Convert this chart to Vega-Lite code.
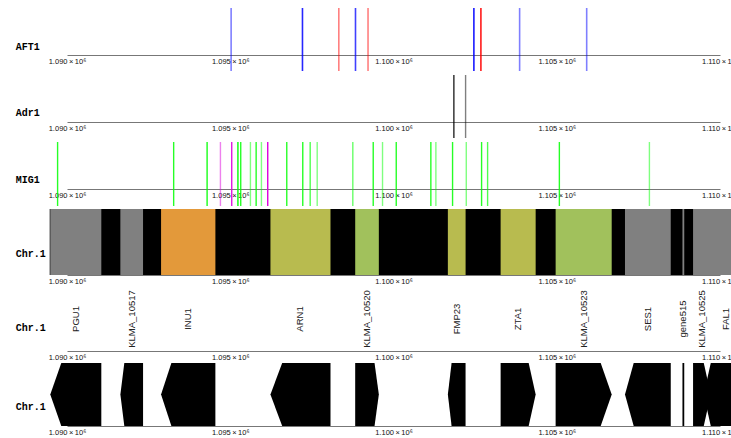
{
  "$schema": "https://vega.github.io/schema/vega-lite/v6.json",
  "padding": {"left": 15, "top": 7, "right": 0, "bottom": 0},
  "spacing": 2,
  "background": "white",
  "config": {
    "view": {"stroke": null},
    "axisX": {"ticks": false, "grid": false, "domainColor": "#777", "domainWidth": 1, "labelFont": "Liberation Sans", "labelFontSize": 7.5, "labelColor": "#111", "labelPadding": 2, "labelFlush": false, "labelOverlap": false, "labelBound": false},
    "axisY": {"domain": false, "ticks": false, "labels": false, "grid": false, "titleAngle": 0, "titleAlign": "left", "titleBaseline": "middle", "titleX": -51.7, "titleFont": "Liberation Mono", "titleFontWeight": "bold", "titleFontSize": 10, "titleColor": "#000"}
  },
  "resolve": {"scale": {"color": "independent", "opacity": "independent"}},
  "datasets": {
    "aft1": [
      {"pos": 1095027, "strand": "+", "score": 0.5},
      {"pos": 1097212, "strand": "+", "score": 0.85},
      {"pos": 1098325, "strand": "-", "score": 0.5},
      {"pos": 1098836, "strand": "+", "score": 0.75},
      {"pos": 1099220, "strand": "-", "score": 0.5},
      {"pos": 1102462, "strand": "+", "score": 0.9},
      {"pos": 1102677, "strand": "-", "score": 0.9},
      {"pos": 1103863, "strand": "+", "score": 0.5},
      {"pos": 1105917, "strand": "+", "score": 0.5}
    ],
    "adr1": [
      {"pos": 1101849, "score": 0.85},
      {"pos": 1102208, "score": 0.5}
    ],
    "mig1": [
      {"pos": 1089712, "strand": "+", "score": 0.85},
      {"pos": 1093267, "strand": "+", "score": 0.85},
      {"pos": 1094291, "strand": "+", "score": 0.9},
      {"pos": 1094699, "strand": "-", "score": 0.5},
      {"pos": 1095045, "strand": "-", "score": 0.9},
      {"pos": 1095235, "strand": "+", "score": 1},
      {"pos": 1095321, "strand": "+", "score": 0.85},
      {"pos": 1095618, "strand": "+", "score": 0.5},
      {"pos": 1095793, "strand": "+", "score": 0.85},
      {"pos": 1095955, "strand": "+", "score": 0.5},
      {"pos": 1096148, "strand": "-", "score": 1},
      {"pos": 1096731, "strand": "+", "score": 0.85},
      {"pos": 1097221, "strand": "+", "score": 0.85},
      {"pos": 1097448, "strand": "+", "score": 0.7},
      {"pos": 1097663, "strand": "+", "score": 0.5},
      {"pos": 1098754, "strand": "+", "score": 0.6},
      {"pos": 1099379, "strand": "+", "score": 0.85},
      {"pos": 1099664, "strand": "+", "score": 0.5},
      {"pos": 1100084, "strand": "+", "score": 0.85},
      {"pos": 1101144, "strand": "+", "score": 0.85},
      {"pos": 1101298, "strand": "+", "score": 0.5},
      {"pos": 1101809, "strand": "+", "score": 0.85},
      {"pos": 1102229, "strand": "+", "score": 0.5},
      {"pos": 1102698, "strand": "+", "score": 0.85},
      {"pos": 1102882, "strand": "+", "score": 0.7},
      {"pos": 1105080, "strand": "+", "score": 0.85},
      {"pos": 1107838, "strand": "+", "score": 0.5}
    ],
    "chrom": [
      {"name": "Chr.1", "start": 1089470, "end": 1111000}
    ],
    "genes": [
      {"name": "PGU1", "start": 1089488, "end": 1091051, "head": 1089825, "strand": "-", "cls": "none"},
      {"name": "KLMA_10517", "start": 1091634, "end": 1092329, "head": 1091756, "strand": "-", "cls": "none"},
      {"name": "INU1", "start": 1092881, "end": 1094545, "head": 1093197, "strand": "-", "cls": "up"},
      {"name": "ARN1", "start": 1096231, "end": 1098070, "head": 1096590, "strand": "-", "cls": "mid"},
      {"name": "KLMA_10520", "start": 1098827, "end": 1099551, "head": 1099419, "strand": "+", "cls": "down"},
      {"name": "FMP23", "start": 1101665, "end": 1102208, "head": 1101779, "strand": "-", "cls": "mid"},
      {"name": "ZTA1", "start": 1103281, "end": 1104354, "head": 1104140, "strand": "+", "cls": "mid"},
      {"name": "KLMA_10523", "start": 1104966, "end": 1106683, "head": 1106346, "strand": "+", "cls": "down"},
      {"name": "SES1", "start": 1107090, "end": 1108491, "head": 1107357, "strand": "-", "cls": "none"},
      {"name": "gene515", "start": 1108850, "end": 1108905, "head": 1108850, "strand": ".", "cls": "none"},
      {"name": "KLMA_10525", "start": 1109175, "end": 1109717, "head": 1109503, "strand": "+", "cls": "none"},
      {"name": "FAL1", "start": 1109503, "end": 1110851, "head": 1109717, "strand": "-", "cls": "none"}
    ]
  },
  "vconcat": [
    {
      "width": 653, "height": 63,
      "data": {"name": "aft1"},
      "mark": {"type": "rule", "strokeWidth": 1.6},
      "encoding": {
        "x": {"field": "pos", "type": "quantitative", "scale": {"domain": [1090000, 1110000], "nice": false, "zero": false},
              "axis": {"title": null, "offset": -16, "values": [1090000, 1095000, 1100000, 1105000, 1110000], "labelExpr": "format(datum.value/1000000, '.3f') + '\u2009×\u200910⁶'"}},
        "y": {"datum": 0, "type": "quantitative", "scale": {"domain": [0, 1]}, "axis": {"title": "AFT1", "titleY": 38}},
        "y2": {"datum": 1},
        "color": {"field": "strand", "type": "nominal", "scale": {"domain": ["+", "-"], "range": ["#0000ff", "#ff0000"]}, "legend": null},
        "opacity": {"field": "score", "type": "quantitative", "scale": {"domain": [0, 1], "range": [0, 1]}, "legend": null}
      }
    },
    {
      "width": 653, "height": 63,
      "data": {"name": "adr1"},
      "mark": {"type": "rule", "strokeWidth": 1.4, "color": "#000"},
      "encoding": {
        "x": {"field": "pos", "type": "quantitative", "scale": {"domain": [1090000, 1110000], "nice": false, "zero": false},
              "axis": {"title": null, "offset": -16, "values": [1090000, 1095000, 1100000, 1105000, 1110000], "labelExpr": "format(datum.value/1000000, '.3f') + '\u2009×\u200910⁶'"}},
        "y": {"datum": 0, "type": "quantitative", "scale": {"domain": [0, 1]}, "axis": {"title": "Adr1", "titleY": 37}},
        "y2": {"datum": 1},
        "opacity": {"field": "score", "type": "quantitative", "scale": {"domain": [0, 1], "range": [0, 1]}, "legend": null}
      }
    },
    {
      "width": 653, "height": 64,
      "data": {"name": "mig1"},
      "mark": {"type": "rule", "strokeWidth": 1.4},
      "encoding": {
        "x": {"field": "pos", "type": "quantitative", "scale": {"domain": [1090000, 1110000], "nice": false, "zero": false},
              "axis": {"title": null, "offset": -17, "values": [1090000, 1095000, 1100000, 1105000, 1110000], "labelExpr": "format(datum.value/1000000, '.3f') + '\u2009×\u200910⁶'"}},
        "y": {"datum": 0, "type": "quantitative", "scale": {"domain": [0, 1]}, "axis": {"title": "MIG1", "titleY": 37}},
        "y2": {"datum": 1},
        "color": {"field": "strand", "type": "nominal", "scale": {"domain": ["+", "-"], "range": ["#00ff00", "#dd00dd"]}, "legend": null},
        "opacity": {"field": "score", "type": "quantitative", "scale": {"domain": [0, 1], "range": [0, 1]}, "legend": null}
      }
    },
    {
      "width": 653, "height": 66,
      "layer": [
        {
          "data": {"name": "chrom"},
          "mark": {"type": "rect", "color": "#000"},
          "encoding": {
            "x": {"field": "start", "type": "quantitative", "scale": {"domain": [1090000, 1110000], "nice": false, "zero": false},
                  "axis": {"title": null, "values": [1090000, 1095000, 1100000, 1105000, 1110000], "labelExpr": "format(datum.value/1000000, '.3f') + '\u2009×\u200910⁶'"}},
            "x2": {"field": "end"},
            "y": {"datum": 0, "type": "quantitative", "scale": {"domain": [0, 1]}, "axis": {"title": "Chr.1", "titleY": 44}},
            "y2": {"datum": 1}
          }
        },
        {
          "data": {"name": "genes"},
          "mark": {"type": "rect"},
          "encoding": {
            "x": {"field": "start", "type": "quantitative"},
            "x2": {"field": "end"},
            "y": {"datum": 0, "type": "quantitative"},
            "y2": {"datum": 1},
            "color": {"field": "cls", "type": "nominal", "scale": {"domain": ["none", "up", "mid", "down"], "range": ["#808080", "#e3993a", "#b8bb4f", "#a1c15c"]}, "legend": null}
          }
        }
      ]
    },
    {
      "width": 653, "height": 64,
      "data": {"name": "genes"},
      "transform": [{"calculate": "(datum.start + datum.end) / 2", "as": "mid"}],
      "mark": {"type": "text", "angle": 270, "font": "Liberation Sans", "fontSize": 9.5, "color": "#222", "align": "center", "baseline": "middle"},
      "encoding": {
        "x": {"field": "mid", "type": "quantitative", "scale": {"domain": [1090000, 1110000], "nice": false, "zero": false},
              "axis": {"title": null, "values": [1090000, 1095000, 1100000, 1105000, 1110000], "labelExpr": "format(datum.value/1000000, '.3f') + '\u2009×\u200910⁶'"}},
        "y": {"datum": 0.5, "type": "quantitative", "scale": {"domain": [0, 1]}, "axis": {"title": "Chr.1", "titleY": 40}},
        "text": {"field": "name"}
      }
    },
    {
      "width": 653, "height": 63,
      "data": {"name": "genes"},
      "transform": [
        {"fold": ["start", "head", "end"], "as": ["vertex", "pos"]},
        {"calculate": "(datum.strand == '-' && datum.vertex == 'start') || (datum.strand == '+' && datum.vertex == 'end') ? 0 : 1", "as": "hi"},
        {"calculate": "-datum.hi", "as": "lo"}
      ],
      "mark": {"type": "area", "color": "#000", "interpolate": "linear"},
      "encoding": {
        "x": {"field": "pos", "type": "quantitative", "scale": {"domain": [1090000, 1110000], "nice": false, "zero": false},
              "axis": {"title": null, "values": [1090000, 1095000, 1100000, 1105000, 1110000], "labelExpr": "format(datum.value/1000000, '.3f') + '\u2009×\u200910⁶'"}},
        "y": {"field": "hi", "type": "quantitative", "stack": null, "scale": {"domain": [-1, 1]}, "axis": {"title": "Chr.1", "titleY": 43}},
        "y2": {"field": "lo"},
        "detail": {"field": "name", "type": "nominal"}
      }
    }
  ]
}
